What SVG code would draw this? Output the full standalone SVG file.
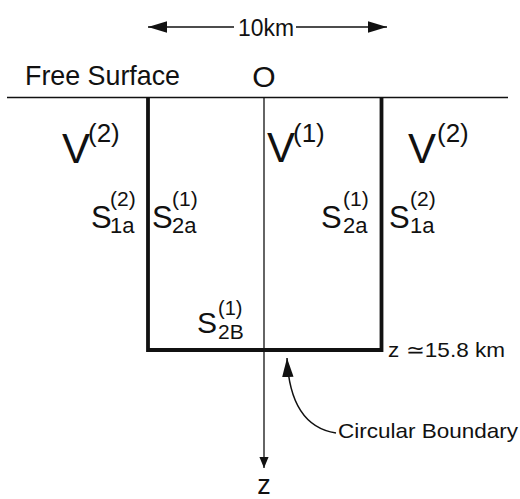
<svg xmlns="http://www.w3.org/2000/svg" width="520" height="499" viewBox="0 0 520 499">
<defs>
<style>
text{font-family:"Liberation Sans",Arial,Helvetica,sans-serif;fill:#111}
.v{font-size:42px}
.vs{font-size:26px}
.s{font-size:31px}
.ss{font-size:21px}
.sb{font-size:22px}
.lbl{font-size:21px}
.thin{stroke:#111;stroke-width:1.3;fill:none}
.thick{stroke:#111;stroke-width:3.8;fill:none}
</style>
<marker id="big" viewBox="0 0 20 12" refX="20" refY="6" markerWidth="19" markerHeight="12" markerUnits="userSpaceOnUse" orient="auto">
<path d="M0,0 L20,6 L0,12 z" fill="#111"/>
</marker>
<marker id="small" viewBox="0 0 12 10" refX="12" refY="5" markerWidth="11" markerHeight="10" markerUnits="userSpaceOnUse" orient="auto">
<path d="M0,0 L12,5 L0,10 z" fill="#111"/>
</marker>
</defs>
<rect width="520" height="499" fill="#fff"/>

<g id="surface">
<line class="thin" x1="7" y1="97.5" x2="508" y2="97.5"/>
<text x="25" y="85" style="font-size:28px" textLength="155" lengthAdjust="spacingAndGlyphs">Free Surface</text>
<text x="264" y="87" style="font-size:30px" text-anchor="middle">O</text>
</g>

<g id="box">
<polyline class="thick" points="148,97.5 148,350 381.5,350 381.5,97.5"/>
</g>

<g id="region-left">
<text class="v" x="62" y="163">V</text>
<text class="vs" x="88" y="142">(2)</text>
<text class="s" x="91" y="228">S</text>
<text class="ss" x="110" y="206">(2)</text>
<text class="sb" x="110" y="233">1a</text>
</g>

<g id="region-inner">
<text class="v" x="267" y="162">V</text>
<text class="vs" x="293" y="142">(1)</text>
<text class="s" x="152" y="228">S</text>
<text class="ss" x="172" y="206">(1)</text>
<text class="sb" x="172" y="233">2a</text>
<text class="s" x="321" y="228">S</text>
<text class="ss" x="343" y="206">(1)</text>
<text class="sb" x="343" y="233">2a</text>
<text x="197" y="333" style="font-size:30px">S</text>
<text x="218" y="315" style="font-size:20px">(1)</text>
<text x="218" y="339" style="font-size:21px">2B</text>
</g>

<g id="region-right">
<text class="v" x="408" y="163">V</text>
<text class="vs" x="437" y="142">(2)</text>
<text class="s" x="389" y="228">S</text>
<text class="ss" x="410" y="206">(2)</text>
<text class="sb" x="410" y="233">1a</text>
</g>

<g id="labels">
<text class="lbl" x="266" y="36" text-anchor="middle" style="font-size:23px" textLength="56" lengthAdjust="spacingAndGlyphs">10km</text>
<text class="lbl" x="388" y="357" textLength="117" lengthAdjust="spacingAndGlyphs">z ≃15.8 km</text>
<text class="lbl" x="338" y="438" textLength="180" lengthAdjust="spacingAndGlyphs">Circular Boundary</text>
<text x="264" y="494" text-anchor="middle" style="font-size:27px">z</text>
</g>

<g id="connectors">
<path class="thin" d="M234,27 L148,27" marker-end="url(#big)"/>
<path class="thin" d="M296,27 L387,27" marker-end="url(#big)"/>
<path class="thin" d="M264,97.5 L264,468" marker-end="url(#small)"/>
<path class="thin" d="M336,433 Q290,426 287,358" marker-end="url(#big)" style="stroke-width:1.5"/>
</g>
</svg>
